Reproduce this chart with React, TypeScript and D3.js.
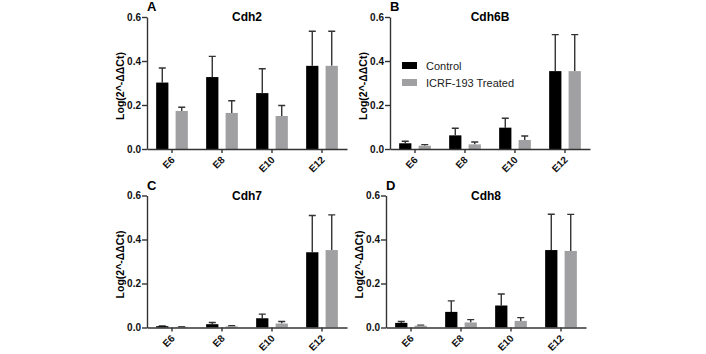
import { useEffect, useRef } from 'react';
import * as d3 from 'd3';

// Embryonic stages on the x axis
const stages = ['E6', 'E8', 'E10', 'E12'];
const yTicks = [0, 0.2, 0.4, 0.6];
const seriesNames = ['Control', 'ICRF-193 Treated'];

// Mean values and upper error (SD)
const cdh2Control = [0.302, 0.327, 0.254, 0.378];
const cdh2ControlErr = [0.066, 0.094, 0.111, 0.157];
const cdh2Treated = [0.173, 0.164, 0.15, 0.378];
const cdh2TreatedErr = [0.017, 0.055, 0.048, 0.157];

const cdh6bControl = [0.026, 0.062, 0.097, 0.354];
const cdh6bControlErr = [0.009, 0.032, 0.043, 0.166];
const cdh6bTreated = [0.015, 0.021, 0.041, 0.354];
const cdh6bTreatedErr = [0.005, 0.011, 0.018, 0.166];

const cdh7Control = [0.006, 0.015, 0.042, 0.342];
const cdh7ControlErr = [0.001, 0.008, 0.019, 0.167];
const cdh7Treated = [0.003, 0.005, 0.018, 0.352];
const cdh7TreatedErr = [0.001, 0.003, 0.009, 0.16];

const cdh8Control = [0.021, 0.071, 0.1, 0.352];
const cdh8ControlErr = [0.006, 0.05, 0.052, 0.163];
const cdh8Treated = [0.008, 0.023, 0.03, 0.348];
const cdh8TreatedErr = [0.003, 0.013, 0.015, 0.166];

const FONT = '"Liberation Sans", Arial, sans-serif';
const BLACK = '#000000';
const GREY = '#a0a0a2';
const AXIS = '#333333';

export default function App() {
  const svgRef = useRef<SVGSVGElement>(null);

  useEffect(() => {
    if (!svgRef.current) return;
    const svg = d3.select(svgRef.current);
    svg.selectAll('*').remove();

    const panels = [
      { letter: 'A', title: 'Cdh2', left: 147, top: 17, c: cdh2Control, ce: cdh2ControlErr, t: cdh2Treated, te: cdh2TreatedErr, legend: false },
      { letter: 'B', title: 'Cdh6B', left: 390, top: 17, c: cdh6bControl, ce: cdh6bControlErr, t: cdh6bTreated, te: cdh6bTreatedErr, legend: true },
      { letter: 'C', title: 'Cdh7', left: 147, top: 195.5, c: cdh7Control, ce: cdh7ControlErr, t: cdh7Treated, te: cdh7TreatedErr, legend: false },
      { letter: 'D', title: 'Cdh8', left: 386, top: 195.5, c: cdh8Control, ce: cdh8ControlErr, t: cdh8Treated, te: cdh8TreatedErr, legend: false },
    ];

    const width = 200;
    const height = 132;

    panels.forEach(p => {
      const g = svg.append('g').attr('transform', `translate(${p.left},${p.top})`);

      const x = d3.scaleBand().domain(stages).range([0, width]);
      const x1 = d3.scaleBand().domain(['c', 't']).range([0, x.bandwidth()])
        .paddingInner(0.37).paddingOuter(0.47);
      const y = d3.scaleLinear().domain([0, 0.6]).range([height, 0]);

      // ── Bars ──────────────────────────────────────────────
      const rows = stages.map((s, i) => ({ s, c: p.c[i], ce: p.ce[i], t: p.t[i], te: p.te[i] }));
      const series: { key: 'c' | 't'; fill: string; v: (d: typeof rows[0]) => number; e: (d: typeof rows[0]) => number }[] = [
        { key: 'c', fill: BLACK, v: d => d.c, e: d => d.ce },
        { key: 't', fill: GREY, v: d => d.t, e: d => d.te },
      ];

      series.forEach(sr => {
        const cx = (d: typeof rows[0]) => x(d.s)! + x1(sr.key)! + x1.bandwidth() / 2;
        // error bars (upper only)
        g.selectAll(`.err-${sr.key}`)
          .data(rows)
          .enter().append('path')
          .attr('d', d => {
            const top = y(sr.v(d) + sr.e(d));
            return `M${cx(d)},${y(sr.v(d))}V${top}M${cx(d) - 3.5},${top}H${cx(d) + 3.5}`;
          })
          .attr('stroke', AXIS)
          .attr('stroke-width', 1.4)
          .attr('fill', 'none');

        g.selectAll(`.bar-${sr.key}`)
          .data(rows)
          .enter().append('rect')
          .attr('x', d => x(d.s)! + x1(sr.key)!)
          .attr('y', d => y(sr.v(d)))
          .attr('width', x1.bandwidth())
          .attr('height', d => height - y(sr.v(d)))
          .attr('fill', sr.fill);
      });

      // ── Axes ──────────────────────────────────────────────
      g.append('g')
        .call(d3.axisLeft(y).tickValues(yTicks).tickSize(5).tickSizeOuter(0).tickFormat(d3.format('.1f')))
        .call(a => a.selectAll('path,line').attr('stroke', AXIS).attr('stroke-width', 1.4))
        .call(a => a.selectAll('text').attr('fill', '#111').attr('font-size', '10px')
          .attr('font-weight', 'bold').attr('font-family', FONT).attr('x', -6));

      g.append('g')
        .attr('transform', `translate(0,${height})`)
        .call(d3.axisBottom(x).tickSize(4).tickSizeOuter(0).tickFormat(() => ''))
        .call(a => a.selectAll('path,line').attr('stroke', AXIS).attr('stroke-width', 1.4));

      // rotated stage labels
      g.selectAll('.xlab')
        .data(stages)
        .enter().append('text')
        .attr('class', 'xlab')
        .attr('transform', s => `translate(${x(s)! + x.bandwidth() / 2 + 1},${height + 9}) rotate(-45)`)
        .attr('text-anchor', 'end')
        .attr('dy', '0.35em')
        .attr('fill', '#111').attr('font-size', '10px').attr('font-weight', 'bold').attr('font-family', FONT)
        .text(s => s);

      // ── Labels ────────────────────────────────────────────
      g.append('text')
        .attr('x', 0).attr('y', -6)
        .attr('font-family', FONT).attr('font-weight', 'bold').attr('font-size', '13px')
        .text(p.letter);

      g.append('text')
        .attr('x', 100).attr('y', 4)
        .attr('text-anchor', 'middle')
        .attr('font-family', FONT).attr('font-weight', 'bold').attr('font-size', '12px')
        .text(p.title);

      g.append('text')
        .attr('transform', `translate(-23,${height / 2 + 3}) rotate(-90)`)
        .attr('text-anchor', 'middle')
        .attr('font-family', FONT).attr('font-weight', 'bold').attr('font-size', '10.5px')
        .text('Log(2^-\u0394\u0394Ct)');

      // ── Legend ────────────────────────────────────────────
      if (p.legend) {
        const leg = g.append('g').attr('transform', 'translate(12,45)');
        [BLACK, GREY].forEach((c, i) => {
          leg.append('rect').attr('x', 0).attr('y', i * 17).attr('width', 15).attr('height', 7).attr('fill', c);
          leg.append('text').attr('x', 24).attr('y', i * 17 + 8)
            .attr('font-family', FONT).attr('font-size', '11px').attr('fill', '#222')
            .text(seriesNames[i]);
        });
      }
    });
  }, []);

  return (
    <svg
      ref={svgRef}
      width={706}
      height={354}
      style={{ position: 'absolute', left: 0, top: 0, background: '#fff', display: 'block' }}
    />
  );
}
